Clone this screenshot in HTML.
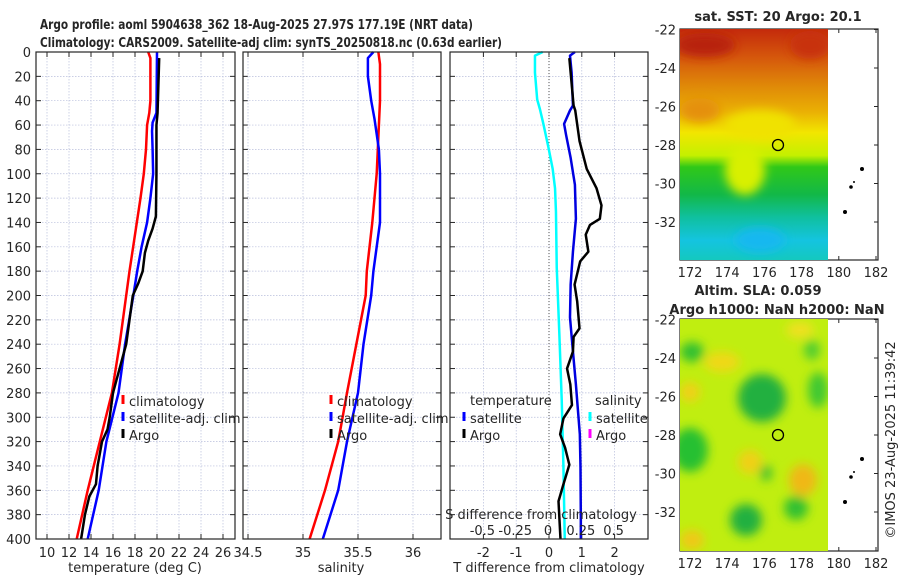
<!DOCTYPE html>
<html><head><meta charset="utf-8"><style>
html,body{margin:0;padding:0;background:#fff;width:900px;height:580px;overflow:hidden}
svg text{font-family:"DejaVu Sans","Liberation Sans",sans-serif;fill:#262626}
</style></head><body>
<svg id="fig" width="900" height="580" viewBox="0 0 900 580" xmlns="http://www.w3.org/2000/svg">
<defs>
<filter id="blur4" x="-50%" y="-50%" width="200%" height="200%"><feGaussianBlur stdDeviation="5"/></filter>
<linearGradient id="sstg" x1="0" y1="29" x2="0" y2="259" gradientUnits="userSpaceOnUse">
<stop offset="0" stop-color="#c42a0c"/><stop offset="0.12" stop-color="#d5560c"/>
<stop offset="0.25" stop-color="#e08a08"/><stop offset="0.36" stop-color="#eab004"/>
<stop offset="0.45" stop-color="#f2e600"/><stop offset="0.55" stop-color="#c4f000"/>
<stop offset="0.6" stop-color="#30c818"/><stop offset="0.72" stop-color="#12b848"/>
<stop offset="0.82" stop-color="#10c0a0"/><stop offset="0.92" stop-color="#14c4e0"/>
<stop offset="1" stop-color="#14c8c0"/></linearGradient>
<clipPath id="c1"><rect x="680" y="29" width="148" height="231"/></clipPath>
<clipPath id="c2"><rect x="680" y="319" width="148" height="232"/></clipPath>
</defs>
<text x="40" y="29" font-size="13" font-weight="bold" textLength="433" lengthAdjust="spacingAndGlyphs">Argo profile: aoml 5904638_362 18-Aug-2025 27.97S 177.19E (NRT data)</text>
<text x="40" y="47" font-size="13" font-weight="bold" textLength="462" lengthAdjust="spacingAndGlyphs">Climatology: CARS2009. Satellite-adj clim: synTS_20250818.nc (0.63d earlier)</text>
<g id="g"></g>
<g>
<text x="778" y="21" font-size="13" font-weight="bold" text-anchor="middle">sat. SST: 20 Argo: 20.1</text>
<g clip-path="url(#c1)">
<rect x="680" y="29" width="148" height="231" fill="url(#sstg)"/>
<g filter="url(#blur4)">
<ellipse cx="745" cy="170" rx="20" ry="25" fill="#d8f000"/>
<ellipse cx="760" cy="125" rx="35" ry="15" fill="#f0e200"/>
<ellipse cx="705" cy="45" rx="30" ry="12" fill="#b8200c"/>
<ellipse cx="810" cy="45" rx="20" ry="14" fill="#c83010"/>
<ellipse cx="760" cy="240" rx="25" ry="12" fill="#18b8f0"/>
<ellipse cx="700" cy="110" rx="20" ry="12" fill="#e59008"/>
</g></g>
<circle cx="778" cy="145" r="5.5" fill="none" stroke="#000" stroke-width="1.3"/>
</g>
<g>
<text x="758" y="295" font-size="13" font-weight="bold" text-anchor="middle">Altim. SLA: 0.059</text>
<text x="777" y="314" font-size="13" font-weight="bold" text-anchor="middle">Argo h1000: NaN h2000: NaN</text>
<g clip-path="url(#c2)">
<rect x="680" y="319" width="148" height="232" fill="#c0ee10"/>
<g filter="url(#blur4)">
<ellipse cx="762" cy="398" rx="24" ry="24" fill="#20b040"/>
<ellipse cx="690" cy="450" rx="18" ry="22" fill="#28c030"/>
<ellipse cx="692" cy="352" rx="12" ry="10" fill="#30c030"/>
<ellipse cx="746" cy="520" rx="16" ry="16" fill="#20b040"/>
<ellipse cx="796" cy="508" rx="12" ry="12" fill="#30c030"/>
<ellipse cx="818" cy="390" rx="10" ry="18" fill="#40c830"/>
<ellipse cx="812" cy="350" rx="8" ry="10" fill="#50cc30"/>
<ellipse cx="766" cy="473" rx="6" ry="8" fill="#40c030"/>
<ellipse cx="803" cy="480" rx="14" ry="16" fill="#f0b818"/>
<ellipse cx="750" cy="462" rx="12" ry="12" fill="#f0d018"/>
<ellipse cx="722" cy="362" rx="18" ry="10" fill="#f0d818"/>
<ellipse cx="690" cy="392" rx="10" ry="10" fill="#f0d018"/>
<ellipse cx="692" cy="540" rx="12" ry="10" fill="#f0c818"/>
<ellipse cx="800" cy="330" rx="14" ry="8" fill="#f0e020"/>
</g></g>
<circle cx="778" cy="435" r="5.5" fill="none" stroke="#000" stroke-width="1.3"/>
</g>
<text transform="translate(895,440) rotate(-90)" font-size="13" text-anchor="middle">©IMOS 23-Aug-2025 11:39:42</text>
</svg>
<script>
// ---- data ----
const tDepthClim=[0,5,20,40,50,60,80,100,120,150,180,200,240,280,320,360,400];
const tClim=[19.2,19.4,19.4,19.4,19.3,19.1,19.0,18.8,18.5,18.0,17.5,17.2,16.6,15.9,14.8,13.7,12.7];
const tDepthSat=[0,50,58,65,80,100,120,140,160,180,200,240,280,320,360,400];
const tSat=[20.0,19.95,19.6,19.55,19.6,19.65,19.4,19.1,18.6,18.2,17.85,17.1,16.5,15.4,14.7,13.7];
const tDepthArgo=[5,50,60,100,135,145,155,165,180,190,200,220,240,250,260,270,280,300,310,320,340,355,365,380,400];
const tArgo=[20.2,20.05,19.95,19.95,19.9,19.6,19.2,18.9,18.7,18.3,17.8,17.5,17.2,16.9,16.6,16.3,16.0,15.7,15.5,15.0,14.6,14.45,13.85,13.45,13.1];
const sDepthClim=[0,10,40,60,100,140,180,200,280,320,360,400];
const sClim=[35.685,35.70,35.70,35.69,35.67,35.63,35.58,35.57,35.40,35.32,35.20,35.06];
const sDepthSat=[0,5,20,40,55,80,100,140,180,200,240,280,320,360,400];
const sSat=[35.64,35.59,35.59,35.62,35.65,35.69,35.70,35.70,35.64,35.62,35.55,35.50,35.40,35.32,35.18];
const dsDepth=[0,3,17,39,47,59,78,96,112,131,177,232,286,341,382,400];
const dsSat=[-0.048,-0.107,-0.107,-0.09,-0.069,-0.043,-0.005,0.028,0.046,0.053,0.059,0.079,0.097,0.11,0.117,0.12];
const dtSatDepth=[0,3,17,44,48,59,68,87,109,137,164,191,218,246,273,314,341,382,400];
const dtSat=[0.79,0.64,0.69,0.73,0.64,0.46,0.52,0.66,0.79,0.82,0.73,0.66,0.64,0.73,0.82,0.94,0.96,0.97,0.97];
const dtArgoDepth=[5,44,48,73,96,112,126,137,142,150,164,172,181,191,205,227,234,246,260,273,290,301,314,325,339,355,369,400];
const dtArgo=[0.62,0.75,0.8,0.93,1.15,1.45,1.6,1.55,1.25,1.12,1.2,0.95,0.87,0.78,0.86,0.93,0.75,0.73,0.55,0.65,0.7,0.44,0.34,0.49,0.62,0.44,0.29,0.35];
const depthTicks=[0,20,40,60,80,100,120,140,160,180,200,220,240,260,280,300,320,340,360,380,400];
const tTicks=[10,12,14,16,18,20,22,24,26];
const sTicks=[34.5,35,35.5,36];
const dtTicks=[-2,-1,0,1,2];
const dsTicks=[-0.5,-0.25,0,0.25,0.5];
const dsTickLabels=["-0.5","-0.25","0","0.25","0.5"];
const latTicks=[-22,-24,-26,-28,-30,-32];
const lonTicks=[172,174,176,178,180,182];

const NS='http://www.w3.org/2000/svg';
const G=document.getElementById('g');
function mk(tag,attrs,parent){const e=document.createElementNS(NS,tag);for(const k in attrs)e.setAttribute(k,attrs[k]);(parent||G).appendChild(e);return e;}
const Y0=52,Y1=539;
const yD=d=>Y0+d*(Y1-Y0)/400;
const xT=t=>47+(t-10)*11;
const xS=s=>358+(s-35.5)*110;
const xDT=t=>549+t*32.8;
const xDS=s=>549+s*131.2;

function panel(name,x0,x1,ticks,xf,labels,showY){
  const g=mk('g',{});
  
  
  depthTicks.forEach(d=>{const l=mk('line',{x1:x0,x2:x1,y1:yD(d),y2:yD(d),stroke:'#b8bedc','stroke-width':0.7,'stroke-dasharray':'1.5,1.5'},g);
    
    mk('line',{x1:x0,x2:x0+5,y1:yD(d),y2:yD(d),stroke:'#262626'},g);mk('line',{x1:x1-5,x2:x1,y1:yD(d),y2:yD(d),stroke:'#262626'},g);
    if(showY){const t=mk('text',{x:x0-5,y:yD(d)+5,'font-size':13,'text-anchor':'end'},g);t.textContent=d;
      }
  });
  ticks.forEach((v,i)=>{const x=xf(v);
    if(x>x0+1&&x<x1-1){const l=mk('line',{x1:x,x2:x,y1:Y0,y2:Y1,stroke:'#b8bedc','stroke-width':0.7,'stroke-dasharray':'1.5,1.5'},g);
      }
    mk('line',{x1:x,x2:x,y1:Y1,y2:Y1-5,stroke:'#262626'},g);mk('line',{x1:x,x2:x,y1:Y0,y2:Y0+5,stroke:'#262626'},g);
    const t=mk('text',{x:x,y:557,'font-size':13,'text-anchor':'middle'},g);t.textContent=labels?labels[i]:v;
    
  });
  return g;
}
function line(g,name,xs,ds,xf,color,w){
  const p=mk('polyline',{points:xs.map((v,i)=>xf(v)+','+yD(ds[i])).join(' '),fill:'none',stroke:color,'stroke-width':w||2.5,'stroke-linejoin':'round'},g);
  
}
function frame(g,x0,x1){mk('rect',{x:x0,y:Y0,width:x1-x0,height:Y1-Y0,fill:'none',stroke:'#262626','stroke-width':1.2},g);}
function label(g,name,x,y,txt,anchor){const t=mk('text',{x:x,y:y,'font-size':13,'text-anchor':anchor||'middle'},g);t.textContent=txt;
  }
function legend(g,x,y,color,txt){const l=mk('line',{x1:x,x2:x,y1:y-11,y2:y-2,stroke:color,'stroke-width':3},g);
  
  label(g,'legend-entry',x+6,y,txt,'start');}

let g1=panel('temperature-panel',36,235,tTicks,xT,null,true);
line(g1,'temp-climatology',tClim,tDepthClim,xT,'#ff0000');
line(g1,'temp-satellite-adj',tSat,tDepthSat,xT,'#0000ff');
line(g1,'temp-argo',tArgo,tDepthArgo,xT,'#000000');
frame(g1,36,235);
label(g1,'temp-x-axis-title',135,572,'temperature (deg C)');
legend(g1,123,406,'#ff0000','climatology');legend(g1,123,423,'#0000ff','satellite-adj. clim');legend(g1,123,440,'#000','Argo');

let g2=panel('salinity-panel',243,441,sTicks,xS,null,false);
line(g2,'sal-climatology',sClim,sDepthClim,xS,'#ff0000');
line(g2,'sal-satellite-adj',sSat,sDepthSat,xS,'#0000ff');
frame(g2,243,441);
label(g2,'salinity-x-axis-title',341,572,'salinity');
legend(g2,331,406,'#ff0000','climatology');legend(g2,331,423,'#0000ff','satellite-adj. clim');legend(g2,331,440,'#000','Argo');

let g3=panel('difference-panel',450,648,dtTicks,xDT,null,false);
const z=mk('line',{x1:xDT(0),x2:xDT(0),y1:Y0,y2:Y1,stroke:'#555','stroke-width':1,'stroke-dasharray':'1,2'},g3);

line(g3,'sal-diff-satellite',dsSat,dsDepth,xDS,'#00ffff');
line(g3,'temp-diff-satellite',dtSat,dtSatDepth,xDT,'#0000e0');
line(g3,'temp-diff-argo',dtArgo,dtArgoDepth,xDT,'#000000');
frame(g3,450,648);
label(g3,'t-diff-x-axis-title',549,572,'T difference from climatology');
label(g3,'s-diff-axis-title',541,519,'S difference from climatology');
dsTicks.forEach((v,i)=>label(g3,'s-diff-tick-label',xDS(v)-1,535,dsTickLabels[i]));
label(g3,'legend-temperature-header',470,405,'temperature','start');
legend(g3,464,423,'#0000ff','satellite');legend(g3,464,440,'#000','Argo');
label(g3,'legend-salinity-header',595,405,'salinity','start');
legend(g3,590,423,'#00ffff','satellite');legend(g3,590,440,'#ff00ff','Argo');

function mapAxes(name,y0,y1,latY){
  const g=mk('g',{});
  mk('rect',{x:680,y:y0,width:198,height:y1-y0,fill:'none',stroke:'#262626','stroke-width':1.2},g);
  latTicks.forEach(v=>{const y=latY(v);mk('line',{x1:680,x2:684,y1:y,y2:y,stroke:'#262626'},g);mk('line',{x1:874,x2:878,y1:y,y2:y,stroke:'#262626'},g);
    label(g,'lat-tick-label',676,y+5,String(v),'end');});
  lonTicks.forEach(v=>{const x=690+(v-172)*18.6;mk('line',{x1:x,x2:x,y1:y1,y2:y1-4,stroke:'#262626'},g);mk('line',{x1:x,x2:x,y1:y0,y2:y0+4,stroke:'#262626'},g);
    label(g,'lon-tick-label',x,y1+17,String(v));});
  [[862,y0+140,2],[851,y0+158,1.8],[854,y0+153,1],[845,y0+183,2]].forEach(p=>{const c=mk('circle',{cx:p[0],cy:p[1],r:p[2],fill:'#000'},g);
    });
}
mapAxes('sst-map-axes',29,260,v=>29.5+(-22-v)*19.25);
mapAxes('sla-map-axes',319,551,v=>319.5+(-22-v)*19.25);
</script>
</body></html>
